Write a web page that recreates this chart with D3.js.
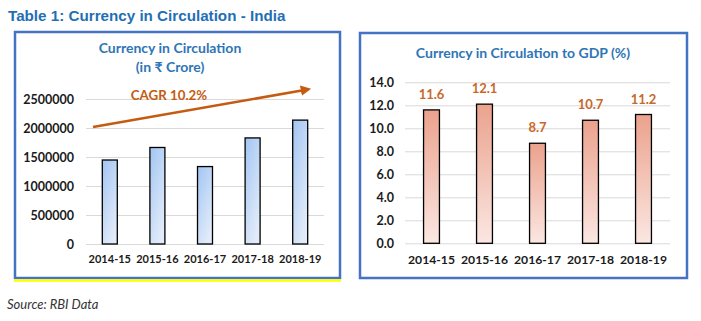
<!DOCTYPE html>
<html>
<head>
<meta charset="utf-8">
<script src="https://cdn.jsdelivr.net/npm/d3@7"></script>
<style>
  body { margin: 0; background: #fff; }
  svg { display: block; }
  text { font-family: Lato, "Open Sans", sans-serif; }
</style>
</head>
<body>
<div id="chart"></div>
<script>
// data
var years = ["2014-15", "2015-16", "2016-17", "2017-18", "2018-19"];
var cic = [1448000, 1664000, 1335000, 1829000, 2136000];
var cicGdp = [11.6, 12.1, 8.7, 10.7, 11.2];
var cicTicks = [0, 500000, 1000000, 1500000, 2000000, 2500000];
var gdpTicks = [0, 2, 4, 6, 8, 10, 12, 14];
var cagrLabel = "CAGR 10.2%";

var w = 701, h = 321;
var svg = d3.select("#chart").append("svg")
    .attr("width", w)
    .attr("height", h);

var defs = svg.append("defs");
var gBlue = defs.append("linearGradient").attr("id", "gblue")
    .attr("x1", 0).attr("y1", 0).attr("x2", 0.6).attr("y2", 1);
gBlue.append("stop").attr("offset", "0%").attr("stop-color", "#a2c5f3");
gBlue.append("stop").attr("offset", "100%").attr("stop-color", "#e1ebf9");
var gRed = defs.append("linearGradient").attr("id", "gred")
    .attr("x1", 0).attr("y1", 0).attr("x2", 0).attr("y2", 1);
gRed.append("stop").attr("offset", "0%").attr("stop-color", "#eba28d");
gRed.append("stop").attr("offset", "100%").attr("stop-color", "#fbe7e2");

// main title
svg.append("text")
    .attr("x", 8).attr("y", 21)
    .style("font-family", "'Liberation Sans', Arial, sans-serif")
    .style("font-weight", "bold")
    .style("font-size", "15.2px")
    .attr("fill", "#1f6fb4")
    .text("Table 1: Currency in Circulation - India");

svg.append("text")
    .attr("x", 7).attr("y", 309)
    .style("font-style", "italic")
    .style("font-size", "13px")
    .attr("fill", "#333")
    .text("Source: RBI Data");

// panels
svg.append("rect").attr("x", 15).attr("y", 32).attr("width", 325).attr("height", 246)
    .attr("fill", "none").attr("stroke", "#4472c4").attr("stroke-width", 2.5);
svg.append("line").attr("x1", 14).attr("x2", 341).attr("y1", 280.5).attr("y2", 280.5)
    .attr("stroke", "#ffff00").attr("stroke-width", 2.5);
svg.append("rect").attr("x", 360).attr("y", 33).attr("width", 327).attr("height", 245)
    .attr("fill", "none").attr("stroke", "#4472c4").attr("stroke-width", 2.5);

// ---- left chart
var x1 = d3.scaleBand().domain(years).range([86, 324]).paddingInner(0.685).paddingOuter(0.3425);
var y1 = d3.scaleLinear().domain([0, 2500000]).range([244, 99]);

var left = svg.append("g");
left.append("text").attr("x", 170).attr("y", 53).attr("text-anchor", "middle")
    .style("font-weight", "bold").style("font-size", "14px").attr("fill", "#2e75b6")
    .text("Currency in Circulation");
left.append("text").attr("x", 170).attr("y", 72).attr("text-anchor", "middle")
    .style("font-weight", "bold").style("font-size", "14px").attr("fill", "#2e75b6")
    .text("(in ₹ Crore)");

left.append("g").attr("class", "y-axis")
    .attr("transform", "translate(86,0)")
    .call(d3.axisLeft(y1).tickValues(cicTicks).tickSize(-238).tickPadding(12).tickFormat(d3.format("d")))
    .call(function(g) {
      g.select(".domain").remove();
      g.selectAll("line").attr("stroke", "#d9d9d9");
      g.selectAll("text").style("font-family", "Lato, sans-serif").style("font-weight", "bold")
        .style("font-size", "12.5px").attr("fill", "#1a1a1a");
    });

left.selectAll(".bar").data(cic).enter().append("rect")
    .attr("x", function(d, i) { return x1(years[i]); })
    .attr("y", function(d) { return y1(d); })
    .attr("width", x1.bandwidth())
    .attr("height", function(d) { return y1(0) - y1(d); })
    .attr("fill", "url(#gblue)")
    .attr("stroke", "#000").attr("stroke-width", 1.3);

left.append("g")
    .attr("transform", "translate(0,244)")
    .call(d3.axisBottom(x1).tickSize(0).tickPadding(11))
    .call(function(g) {
      g.select(".domain").remove();
      g.selectAll("text").style("font-family", "Lato, sans-serif").style("font-weight", "bold")
        .style("font-size", "11px").attr("fill", "#1a1a1a");
    });

// CAGR arrow
defs.append("marker").attr("id", "arrow")
    .attr("viewBox", "0 0 10 10").attr("refX", 5).attr("refY", 5)
    .attr("markerWidth", 4).attr("markerHeight", 4).attr("orient", "auto")
  .append("path").attr("d", "M0,0 L10,5 L0,10 z").attr("fill", "#c55a11");
left.append("line")
    .attr("x1", x1.range()[0] + 7).attr("y1", y1(2000000) - 1)
    .attr("x2", x1.range()[1] - 18).attr("y2", y1(2660000))
    .attr("stroke", "#c55a11").attr("stroke-width", 2.6)
    .attr("marker-end", "url(#arrow)");
left.append("text").attr("x", 169).attr("y", 100).attr("text-anchor", "middle")
    .style("font-weight", "bold").style("font-size", "13.3px").attr("fill", "#c55a11")
    .text(cagrLabel);

// ---- right chart
var x2 = d3.scaleBand().domain(years).range([405, 670]).paddingInner(0.7).paddingOuter(0.35);
var y2 = d3.scaleLinear().domain([0, 14]).range([243.3, 82.3]);

var right = svg.append("g");
right.append("text").attr("x", 523).attr("y", 58).attr("text-anchor", "middle")
    .style("font-weight", "bold").style("font-size", "14px").attr("fill", "#2e75b6")
    .text("Currency in Circulation to GDP (%)");

right.append("g")
    .attr("transform", "translate(405,0)")
    .call(d3.axisLeft(y2).tickValues(gdpTicks).tickSize(-265).tickPadding(11).tickFormat(d3.format(".1f")))
    .call(function(g) {
      g.select(".domain").remove();
      g.selectAll("line").attr("stroke", "#d9d9d9");
      g.selectAll("text").style("font-family", "Lato, sans-serif").style("font-weight", "bold")
        .style("font-size", "12.5px").attr("fill", "#1a1a1a");
    });

right.selectAll(".bar").data(cicGdp).enter().append("rect")
    .attr("x", function(d, i) { return x2(years[i]); })
    .attr("y", function(d) { return y2(d); })
    .attr("width", x2.bandwidth())
    .attr("height", function(d) { return y2(0) - y2(d); })
    .attr("fill", "url(#gred)")
    .attr("stroke", "#000").attr("stroke-width", 1.3);

right.selectAll(".lbl").data(cicGdp).enter().append("text")
    .attr("x", function(d, i) { return x2(years[i]) + x2.bandwidth() / 2; })
    .attr("y", function(d) { return y2(d) - 11; })
    .attr("text-anchor", "middle")
    .style("font-weight", "bold").style("font-size", "13px").attr("fill", "#c8682a")
    .text(function(d) { return d3.format(".1f")(d); });

right.append("g")
    .attr("transform", "translate(0,243.3)")
    .call(d3.axisBottom(x2).tickSize(0).tickPadding(12))
    .call(function(g) {
      g.select(".domain").remove();
      g.selectAll("text").style("font-family", "Lato, sans-serif").style("font-weight", "bold")
        .style("font-size", "12.2px").attr("fill", "#1a1a1a");
    });
</script>
</body>
</html>
